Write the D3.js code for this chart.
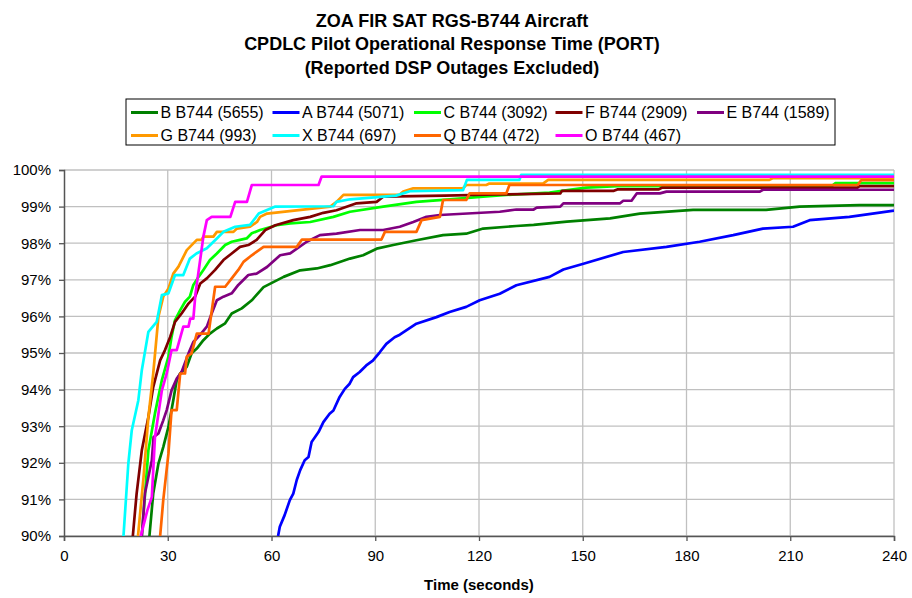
<!DOCTYPE html>
<html>
<head>
<meta charset="utf-8">
<script src="https://cdn.jsdelivr.net/npm/d3@7"></script>
<style>
  body { margin: 0; background: #fff; }
  svg { font-family: "Liberation Sans", Arial, sans-serif; }
</style>
</head>
<body>
<svg id="chart" width="912" height="598"></svg>
<script>
// series: [seconds, cumulative %]
const seriesB = [[24.7,90],[25.8,91.16],[27.3,91.98],[28.7,92.43],[30.2,92.98],[31.6,93.71],[32.6,94.26],[33.6,94.44],[35.5,94.62],[36.9,94.99],[38.4,95.12],[40.3,95.35],[42.2,95.53],[44.2,95.67],[46.6,95.81],[48.5,96.08],[51.4,96.22],[54.3,96.44],[57.7,96.8],[63.5,97.08],[68.3,97.26],[73.1,97.31],[77,97.4],[82.7,97.58],[86.5,97.67],[90.4,97.85],[95.2,97.95],[101.9,98.08],[109.6,98.22],[116.3,98.26],[121.2,98.4],[130.8,98.47],[135.8,98.5],[145.4,98.59],[157.9,98.68],[166.5,98.81],[181.9,98.91],[203,98.91],[212.7,99.0],[230,99.04],[240,99.04]];
const seriesA = [[61.9,90],[62.4,90.25],[63.8,90.57],[65.3,90.98],[66.3,91.16],[67.3,91.53],[68.3,91.8],[69.6,92.07],[70.7,92.16],[71.6,92.57],[73.6,92.84],[75,93.11],[76.8,93.34],[77.9,93.43],[79.7,93.8],[81.2,94.02],[82.6,94.16],[83.6,94.34],[85.5,94.48],[87.4,94.66],[89.3,94.79],[91.3,95.02],[93.2,95.25],[95.6,95.43],[97.1,95.5],[101.9,95.8],[107.7,95.98],[111.5,96.12],[116.3,96.26],[120.2,96.44],[126,96.62],[130.8,96.85],[140.4,97.08],[144.4,97.28],[150.2,97.44],[161.7,97.76],[174.2,97.9],[183.8,98.04],[193.5,98.22],[202.1,98.4],[210.8,98.45],[215.6,98.63],[227.1,98.72],[240,98.89]];
const seriesC = [[22.5,90],[24.4,92.34],[26.3,93.35],[28.3,94.26],[30.2,94.9],[31.1,95.44],[32.1,95.9],[33.6,96.17],[35,96.4],[36.4,96.54],[37.4,96.86],[38.9,97.08],[40.3,97.27],[42.2,97.54],[44.2,97.72],[46.6,97.95],[48.5,98.04],[50.9,98.09],[52.8,98.13],[54.3,98.27],[56.7,98.36],[61.5,98.49],[65.4,98.54],[71.2,98.58],[77.9,98.72],[82.7,98.86],[92.3,99.0],[101.9,99.13],[111.5,99.2],[121.2,99.27],[127.9,99.32],[140.4,99.38],[144,99.43],[151,99.52],[160,99.56],[222,99.56],[223,99.64],[240,99.64]];
const seriesF = [[19.9,90],[21,91.16],[22.5,92.34],[24.4,93.25],[25.8,94.07],[27.8,94.8],[29.2,95.08],[30.7,95.44],[32.1,95.85],[34,96.08],[36,96.35],[37.9,96.54],[39.4,96.9],[41.3,97.04],[43.7,97.27],[46.1,97.54],[48.5,97.72],[50.9,97.9],[53.3,97.95],[55.7,98.09],[58.2,98.36],[61.1,98.49],[66.3,98.63],[71.2,98.72],[75,98.83],[78.8,98.9],[84.6,99.09],[90.4,99.13],[92.3,99.27],[110,99.3],[125,99.33],[143.5,99.36],[144,99.43],[159,99.43],[160,99.47],[172,99.47],[173,99.52],[229.5,99.52],[230,99.56],[240,99.56]];
const seriesE = [[22.5,90],[23.4,91.16],[25.4,92.07],[25.9,92.7],[27.3,92.8],[28.7,93.16],[29.7,93.44],[31.1,93.98],[32.6,94.3],[34,94.48],[36,94.99],[37.4,95.3],[39.3,95.49],[41.3,95.72],[42.7,96.08],[44.2,96.44],[46.1,96.54],[48.5,96.63],[50.4,96.86],[53.3,97.13],[55.7,97.17],[58.7,97.35],[62.5,97.67],[65.4,97.72],[70.2,98.04],[74,98.22],[78.8,98.26],[85.6,98.36],[92.3,98.36],[97.1,98.45],[101,98.58],[104.8,98.72],[108.7,98.77],[126,98.86],[130.8,98.92],[135.8,98.92],[136.7,98.97],[143.5,99.0],[144.4,99.09],[160.8,99.09],[161.7,99.16],[164.1,99.16],[165.6,99.36],[172.3,99.36],[174.2,99.41],[201.2,99.41],[202.1,99.46],[240,99.46]];
const seriesG = [[21.4,90],[23,91.61],[24.4,93.25],[25.8,94.44],[27.3,95.99],[28.7,96.54],[30.2,96.76],[31.6,97.17],[33.1,97.36],[35.5,97.81],[38.4,98.09],[39.8,98.09],[40.3,98.18],[43.2,98.18],[44.2,98.31],[49,98.31],[50,98.4],[53.8,98.45],[55.8,98.58],[56.7,98.72],[58.7,98.81],[77,99.0],[78.8,99.13],[80.8,99.32],[97,99.32],[98.1,99.41],[101,99.5],[115.4,99.5],[116.3,99.59],[122.1,99.59],[123,99.63],[138.5,99.63],[140,99.73],[204,99.73],[205,99.78],[240,99.78]];
const seriesX = [[17.2,90],[18.6,91.98],[19.6,92.89],[21.5,93.71],[22.5,94.53],[24.4,95.58],[26.8,95.85],[28.3,96.58],[30.2,96.63],[32.1,97.13],[34.5,97.13],[36.4,97.58],[38.3,97.72],[41.3,97.86],[44.2,98.13],[46.1,98.31],[49.5,98.45],[53.8,98.5],[56.3,98.81],[61.1,99.0],[77.9,99.01],[78.8,99.13],[82.7,99.2],[96,99.3],[100,99.42],[115.4,99.45],[116.5,99.73],[131.7,99.73],[132.2,99.87],[240,99.87]];
const seriesQ = [[27.8,90],[28.7,90.98],[30.2,92.25],[31.1,93.44],[32.6,93.44],[33.6,94.44],[35,94.44],[35.5,94.9],[36.9,94.99],[38.4,95.53],[41.8,95.53],[43.7,96.81],[46.6,96.81],[48.5,97.04],[50.4,97.27],[51.9,97.49],[54.3,97.67],[57.7,97.9],[67.3,97.9],[68.8,98.1],[91.8,98.1],[92.8,98.31],[101.9,98.31],[103.4,98.63],[108.7,98.72],[109.6,99.18],[116.3,99.18],[117.3,99.36],[127.9,99.36],[128.8,99.59],[229.5,99.59],[230.5,99.72],[240,99.72]];
const seriesO = [[22.2,90],[24.1,90.7],[25.4,91.07],[26.3,92.7],[28.3,93.98],[29.7,94.44],[31.1,95.08],[32.6,95.08],[34.5,95.72],[36,95.72],[36.5,95.94],[37.4,95.94],[38,96.6],[40.3,98.18],[41.3,98.63],[42.7,98.72],[48.1,98.72],[49.5,99.13],[52.9,99.13],[54.3,99.59],[73.6,99.59],[74.5,99.82],[240,99.82]];

const seriesNames = ["B B744 (5655)", "A B744 (5071)", "C B744 (3092)", "F B744 (2909)", "E B744 (1589)",
                     "G B744 (993)", "X B744 (697)", "Q B744 (472)", "O B744 (467)"];
const seriesColors = ["#008000", "#0000FF", "#00FF00", "#800000", "#800080",
                      "#FF9900", "#00FFFF", "#FF6600", "#FF00FF"];
const seriesData = [seriesB, seriesA, seriesC, seriesF, seriesE, seriesG, seriesX, seriesQ, seriesO];

const xTicks = [0, 30, 60, 90, 120, 150, 180, 210, 240];
const yTicks = [90, 91, 92, 93, 94, 95, 96, 97, 98, 99, 100];
const titleLines = ["ZOA FIR SAT RGS-B744 Aircraft",
                    "CPDLC Pilot Operational Response Time (PORT)",
                    "(Reported DSP Outages Excluded)"];

const svg = d3.select("#chart");
const plotLeft = 64, plotRight = 894, plotTop = 170, plotBottom = 536;

const x = d3.scaleLinear().domain([0, 240]).range([plotLeft, plotRight]);
const y = d3.scaleLinear().domain([90, 100]).range([plotBottom, plotTop]);

// title
svg.append("g").selectAll("text")
  .data(titleLines)
  .enter().append("text")
  .attr("x", 452)
  .attr("y", (d, i) => 26.5 + i * 23.5)
  .attr("text-anchor", "middle")
  .style("font-weight", "bold")
  .style("font-size", "18px")
  .text(d => d);

// grid
svg.append("g").selectAll("line")
  .data(yTicks)
  .enter().append("line")
  .attr("x1", plotLeft).attr("x2", plotRight)
  .attr("y1", d => y(d)).attr("y2", d => y(d))
  .attr("stroke", "#c0c0c0").attr("stroke-width", 1.3);

svg.append("g").selectAll("line")
  .data(xTicks.slice(1))
  .enter().append("line")
  .attr("x1", d => x(d)).attr("x2", d => x(d))
  .attr("y1", plotTop).attr("y2", plotBottom)
  .attr("stroke", "#c0c0c0").attr("stroke-width", 1.3);

// axes
const yAxis = svg.append("g")
  .attr("transform", "translate(" + plotLeft + ",0)")
  .call(d3.axisLeft(y).tickValues(yTicks).tickSize(5).tickPadding(8).tickFormat(d => d + "%"));
const xAxis = svg.append("g")
  .attr("transform", "translate(0," + plotBottom + ")")
  .call(d3.axisBottom(x).tickValues(xTicks).tickSize(5).tickPadding(9));

[xAxis, yAxis].forEach(a => {
  a.select(".domain").attr("stroke", "#555").attr("stroke-width", 1.5);
  a.selectAll(".tick line").attr("stroke", "#555").attr("stroke-width", 1.3);
  a.selectAll("text").style("font-size", "15px").style("font-family", "'Liberation Sans', Arial, sans-serif").attr("fill", "#000");
});

svg.append("text")
  .attr("x", (plotLeft + plotRight) / 2)
  .attr("y", 590)
  .attr("text-anchor", "middle")
  .style("font-weight", "bold")
  .style("font-size", "15px")
  .text("Time (seconds)");

// clip lines to plot area
svg.append("clipPath").attr("id", "plotClip")
  .append("rect")
  .attr("x", plotLeft).attr("y", plotTop - 4)
  .attr("width", plotRight - plotLeft).attr("height", plotBottom - plotTop + 4);

const line = d3.line()
  .x(d => x(d[0]))
  .y(d => y(d[1]));

svg.append("g")
  .attr("clip-path", "url(#plotClip)")
  .selectAll("path")
  .data(seriesData)
  .enter().append("path")
  .attr("d", d => line(d))
  .attr("fill", "none")
  .attr("stroke", (d, i) => seriesColors[i])
  .attr("stroke-width", 2.7)
  .attr("stroke-linejoin", "round");

// legend
const legend = svg.append("g");
legend.append("rect")
  .attr("x", 126).attr("y", 99)
  .attr("width", 709).attr("height", 46)
  .attr("fill", "#fff").attr("stroke", "#000").attr("stroke-width", 1);

const items = legend.selectAll("g.item")
  .data(seriesNames)
  .enter().append("g")
  .attr("class", "item")
  .attr("transform", (d, i) => "translate(" + (131 + (i % 5) * 141.5) + "," + (112.5 + Math.floor(i / 5) * 23) + ")");

items.append("line")
  .attr("x1", 0).attr("x2", 27)
  .attr("stroke", (d, i) => seriesColors[i])
  .attr("stroke-width", 3);

items.append("text")
  .attr("x", 29.5)
  .attr("dy", "0.36em")
  .style("font-size", "16px")
  .text(d => d);
</script>
</body>
</html>
